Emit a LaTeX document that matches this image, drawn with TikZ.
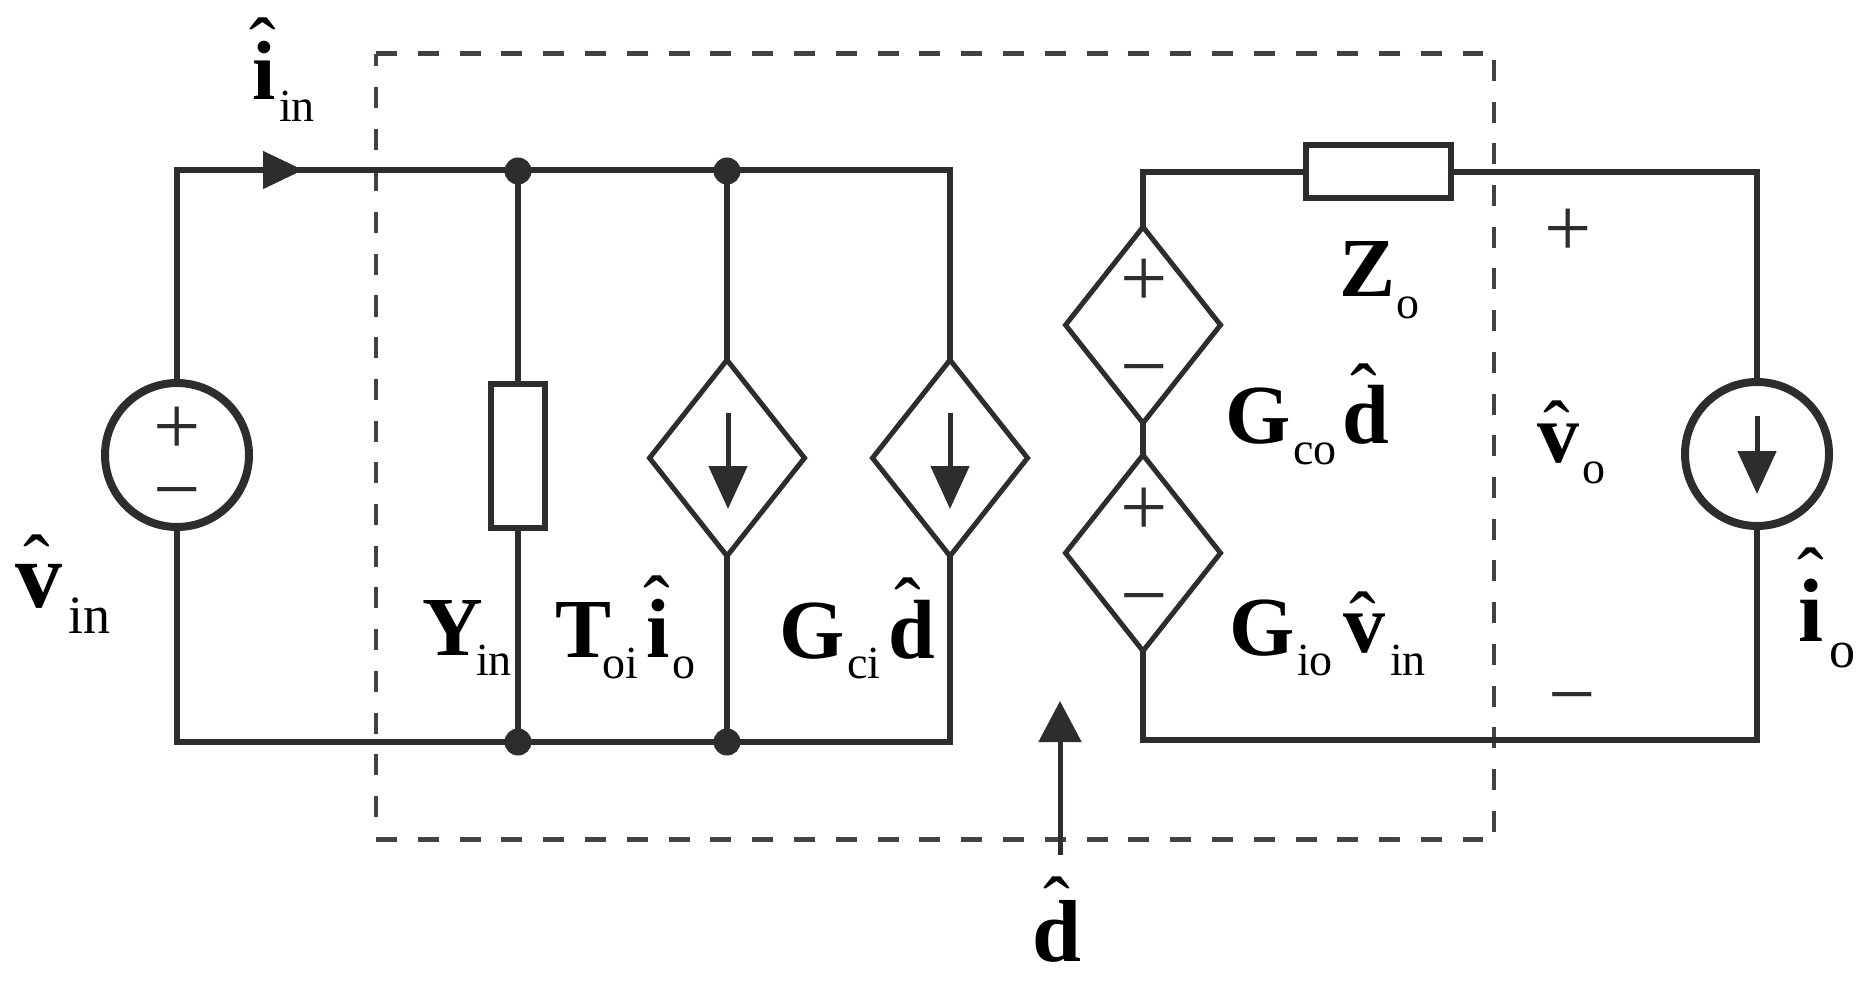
\documentclass[tikz,border=0pt]{standalone}
\usepackage{fontspec}
\setmainfont{Liberation Serif}
\usetikzlibrary{arrows.meta,shapes.geometric}
\definecolor{ink}{HTML}{2E2C2C}
\tikzset{
  wire/.style={draw=ink,line width=6pt,line join=miter},
  dashH/.style={draw=ink!90,line width=5pt,dash pattern=on 21pt off 20.8pt},
  dashV/.style={draw=ink!90,line width=3.6pt,dash pattern=on 21pt off 20.7pt},
  dot/.style={circle,fill=ink,inner sep=0pt,outer sep=0pt,minimum size=27pt},
  src/.style={circle,draw=ink,line width=8pt,inner sep=0pt,outer sep=0pt,minimum size=144pt},
  dep/.style={diamond,draw=ink,line width=5pt,inner sep=0pt,outer sep=0pt,minimum width=155pt,minimum height=196pt},
  imp/.style={rectangle,draw=ink,line width=6pt,inner sep=0pt,outer sep=0pt},
  flow/.style={draw=ink,line width=5pt,-{Triangle[length=43pt,width=38pt]}},
  txt/.style={text=black,inner sep=0pt,outer sep=0pt,anchor=base west},
  bold/.style={txt,font=\fontsize{84}{84}\selectfont\bfseries},
  sub/.style={txt,font=\fontsize{46}{46}\selectfont},
  hat/.style={text=black,inner sep=0pt,outer sep=0pt,anchor=base,font=\fontsize{80}{80}\selectfont},
  sign/.style={text=ink,inner sep=0pt,outer sep=0pt,anchor=center,font=\fontsize{84}{84}\selectfont}
}
\begin{document}
\begin{tikzpicture}[x=1pt,y=-1pt]
  \useasboundingbox (0,0) rectangle (1868,984);
  % dashed box
  \coordinate (nw) at (376,54);
  \coordinate (ne) at (1483,54);
  \coordinate (sw) at (376,839);
  \coordinate (se) at (1483,839);
  \coordinate (rt) at (1494,60);
  \coordinate (rb) at (1494,832);
  \coordinate (lt) at (376,54);
  \coordinate (lb) at (376,817);
  \draw[dashH] (nw) -- (ne);
  \draw[dashH] (sw) -- (se);
  \draw[dashV,dash phase=8.7pt] (lt) -- (lb);
  \draw[dashV] (rt) -- (rb);

  % elements
  \node[src] (vin) at (177,455) {};
  \node[src] (io) at (1757,454) {};
  \node[imp,minimum width=54pt,minimum height=144pt] (yin) at (518,456) {};
  \node[imp,minimum width=145pt,minimum height=53pt] (zo) at (1378,172) {};
  \node[dep] (dToi) at (727,458) {};
  \node[dep] (dGci) at (950,458) {};
  \node[dep] (dGco) at (1143,325) {};
  \node[dep] (dGio) at (1143,553) {};

  % junctions
  \node[dot] (j1) at (518,171) {};
  \node[dot] (j2) at (727,171) {};
  \node[dot] (j3) at (518,742) {};
  \node[dot] (j4) at (727,742) {};
  \coordinate (tl) at (177,170);
  \coordinate (bl) at (177,742);
  \coordinate (tm) at (950,170);
  \coordinate (bm) at (950,742);
  \coordinate (tc) at (1143,172);
  \coordinate (bc) at (1143,740);
  \coordinate (tr) at (1757,172);
  \coordinate (br) at (1757,740);

  % wires
  \draw[wire] (vin.north) -- (tl) -- (tm) -- (dGci.north);
  \draw[wire] (vin.south) -- (bl) -- (bm) -- (dGci.south);
  \draw[wire] (j1) -- (yin.north);
  \draw[wire] (yin.south) -- (j3);
  \draw[wire] (j2) -- (dToi.north);
  \draw[wire] (dToi.south) -- (j4);
  \draw[wire] (dGco.north) -- (tc) -- (zo.west);
  \draw[wire] (zo.east) -- (tr) -- (io.north);
  \draw[wire] (dGco.south) -- (dGio.north);
  \draw[wire] (dGio.south) -- (bc) -- (br) -- (io.south);

  % arrows
  \coordinate (iaS) at (262,170);
  \coordinate (iaT) at (303,170);
  \draw[draw=ink,line width=1pt,-{Triangle[length=40pt,width=38pt]}] (iaS) -- (iaT);
  \coordinate (a1S) at (728,413);
  \coordinate (a1T) at (728,509);
  \draw[flow] (a1S) -- (a1T);
  \coordinate (a2S) at (950,413);
  \coordinate (a2T) at (950,509);
  \draw[flow] (a2S) -- (a2T);
  \coordinate (a3S) at (1757,416);
  \coordinate (a3T) at (1757,494);
  \draw[flow] (a3S) -- (a3T);
  \coordinate (dS) at (1060,855);
  \coordinate (dT) at (1060,701);
  \draw[flow,-{Triangle[length=41pt,width=42pt]}] (dS) -- (dT);

  % signs
  \node[sign] (p1) at (177,431) {+};
  \node[sign] (m1) at (177,503) {−};
  \node[sign] (p2) at (1144,283) {+};
  \node[sign] (m2) at (1144,380) {−};
  \node[sign] (p3) at (1144,512) {+};
  \node[sign] (m3) at (1144,609) {−};
  \node[sign] (p4) at (1568,233) {+};
  \node[sign] (m4) at (1572,708) {−};

  % labels
  \node[bold] (iinL) at (252,100) {i};
  \node[hat] (iinH) at (263,74) {ˆ};
  \node[sub] (iinS) at (279,122) {in};

  \node[bold,font=\fontsize{94}{94}\selectfont\bfseries] (vinL) at (15,607) {v};
  \node[hat] (vinH) at (37,590) {ˆ};
  \node[sub,font=\fontsize{54}{54}\selectfont] (vinS) at (68,633) {in};

  \node[bold] (yL) at (422,655) {Y};
  \node[sub] (yS) at (476,675) {in};

  \node[bold] (tL) at (555,657) {T};
  \node[sub] (tS) at (602,678) {oi};
  \node[bold] (tiL) at (646,657) {i};
  \node[hat] (tiH) at (657,631) {ˆ};
  \node[sub] (tiS) at (672,678) {o};

  \node[bold] (gcL) at (779,658) {G};
  \node[sub] (gcS) at (847,678) {ci};
  \node[bold] (gcD) at (888,658) {d};
  \node[hat] (gcH) at (908,633) {ˆ};

  \node[bold] (zL) at (1339,297) {Z};
  \node[sub] (zS) at (1396,318) {o};

  \node[bold] (goL) at (1225,443) {G};
  \node[sub] (goS) at (1293,464) {co};
  \node[bold] (goD) at (1342,443) {d};
  \node[hat] (goH) at (1364,419) {ˆ};

  \node[bold] (voL) at (1537,462) {v};
  \node[hat] (voH) at (1557,456) {ˆ};
  \node[sub] (voS) at (1582,483) {o};

  \node[bold] (giL) at (1229,655) {G};
  \node[sub] (giS) at (1297,675) {io};
  \node[bold] (giV) at (1343,652) {v};
  \node[hat] (giH) at (1363,647) {ˆ};
  \node[sub] (giT) at (1390,675) {in};

  \node[bold,font=\fontsize{90}{90}\selectfont\bfseries] (ioL) at (1798,641) {i};
  \node[hat] (ioH) at (1811,603) {ˆ};
  \node[sub,font=\fontsize{52}{52}\selectfont] (ioS) at (1829,667) {o};

  \node[bold,font=\fontsize{88}{88}\selectfont\bfseries] (dL) at (1032,961) {d};
  \node[hat] (dH) at (1057,932) {ˆ};
\end{tikzpicture}
\end{document}
